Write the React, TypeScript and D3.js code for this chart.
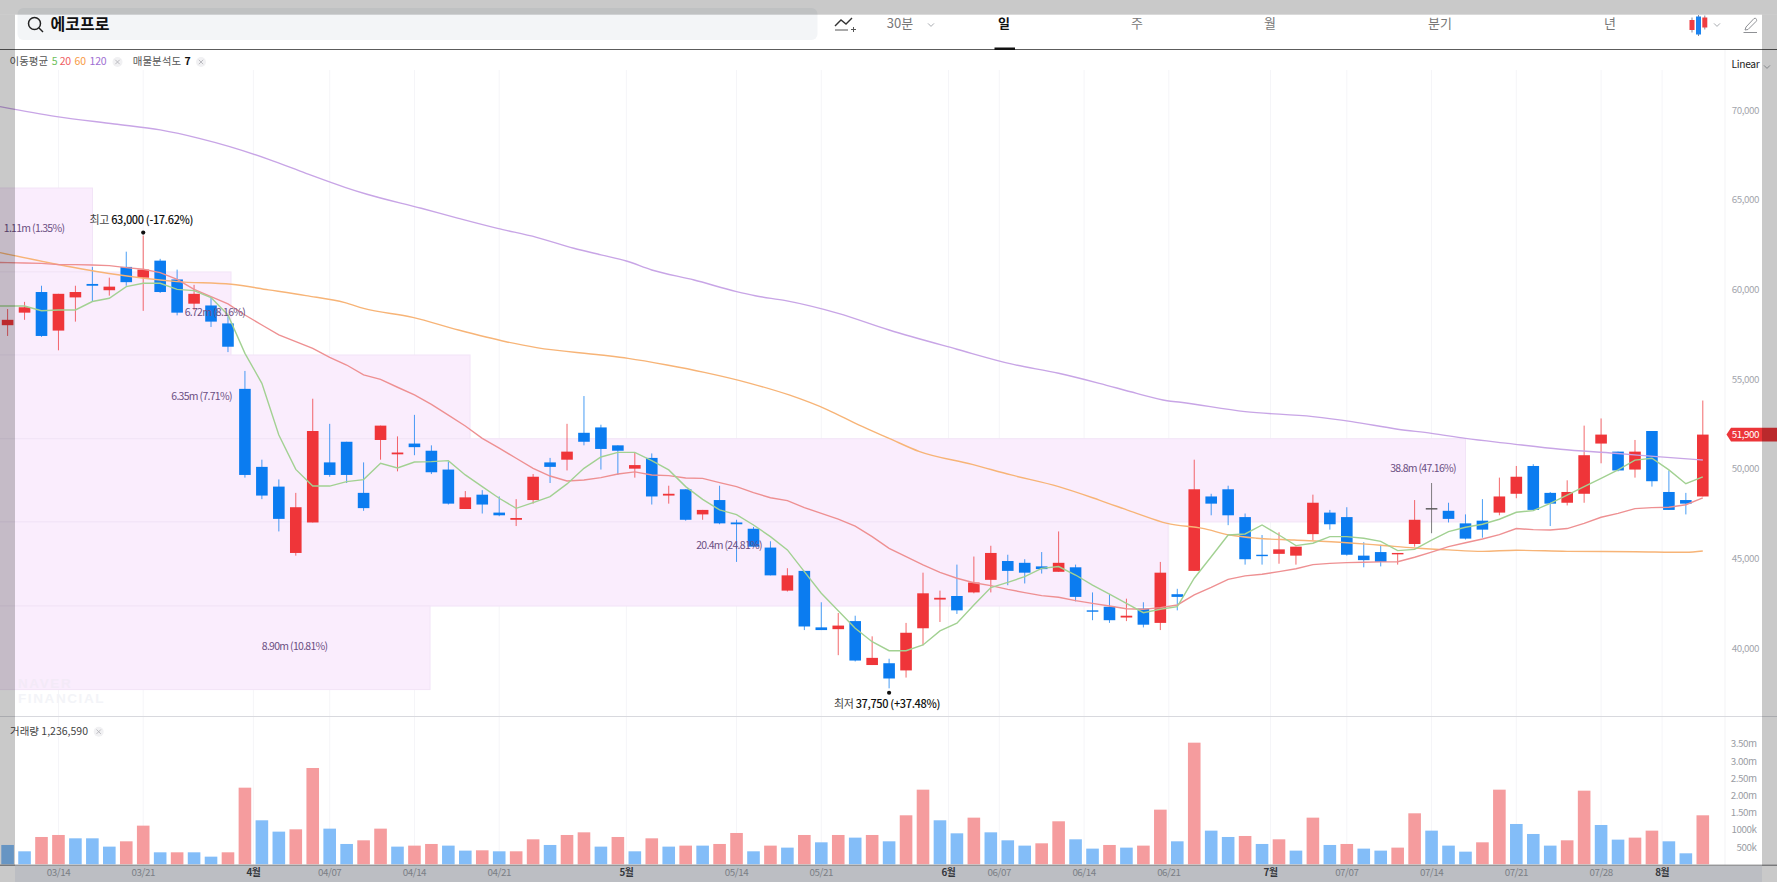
import React, { useRef, useEffect } from 'react';
import * as d3 from 'd3';

const FONT = '"Noto Sans CJK KR", "Noto Sans", sans-serif';

const opens = [
  58000, 58700, 59850, 57700, 59550, 60300, 59950, 61250, 60650, 61600,
  60550, 59200, 59100, 58100, 54450, 50100, 49000, 45300, 47000, 50350,
  51500, 48650, 51600, 50800, 51400, 51000, 49950, 47750, 48550, 47550,
  47150, 48250, 50350, 50500, 52000, 52300, 51300, 50000, 50600, 48500,
  48850, 47450, 48250, 47000, 46650, 45600, 43200, 44300, 41150, 41050,
  41500, 39050, 39150, 38750, 41100, 42700, 42900, 43100, 43800, 44850,
  44750, 44550, 44250, 44500, 42100, 42300, 41700, 42200, 41400, 43000,
  44300, 48450, 48850, 47300, 45200, 45250, 45150, 46350, 47550, 47300,
  45150, 45350, 45250, 45800, 47800, 47650, 46950, 47100, 47550, 48600,
  50150, 48650, 48100, 48600, 51400, 50950, 49950, 52100, 48700, 48250,
  48450,
];
const closes = [
  58300, 59000, 57400, 59750, 59850, 60200, 60150, 60400, 61100, 59850,
  58700, 59750, 58200, 56800, 49650, 48500, 47200, 47850, 52100, 49650,
  49650, 47800, 52400, 50900, 51200, 49800, 48050, 48400, 48000, 47400,
  47250, 49550, 50100, 50950, 51500, 51100, 51000, 50200, 48450, 48600,
  47150, 47700, 46950, 46900, 45650, 44050, 44050, 41200, 41000, 41250,
  39300, 39450, 38300, 40850, 43050, 42800, 42100, 43650, 45300, 44300,
  44200, 44400, 44750, 42850, 42050, 41550, 41800, 41300, 44200, 42850,
  48850, 48050, 47400, 44950, 45150, 45500, 45650, 48100, 46900, 45200,
  44900, 44800, 45300, 47150, 47800, 47200, 46100, 46600, 48450, 49550,
  47700, 48050, 48700, 50750, 51900, 49900, 50950, 49300, 47700, 48050,
  51900,
];
const highs = [
  58900, 59300, 60200, 59750, 60200, 61250, 60650, 62100, 63000, 61700,
  61100, 60250, 59550, 58500, 55450, 50500, 49400, 48650, 53900, 52500,
  51500, 50350, 52400, 51800, 53000, 51300, 50400, 48750, 48800, 48450,
  48300, 49700, 50600, 52500, 54050, 52450, 51300, 50900, 50850, 49050,
  48850, 47700, 49050, 47150, 46750, 45950, 44450, 44300, 42550, 41950,
  41800, 40650, 39400, 41400, 44200, 43200, 44650, 45100, 45700, 45200,
  44950, 45350, 46500, 44650, 43100, 43000, 42750, 42550, 44800, 43300,
  50500, 48600, 49050, 47500, 46300, 46450, 45650, 48550, 47700, 47850,
  45900, 45750, 45300, 48250, 49200, 48100, 47450, 48300, 49500, 50150,
  50250, 48700, 49350, 52400, 52800, 50950, 51600, 52100, 49900, 48650,
  53800,
];
const lows = [
  57400, 58300, 57350, 56600, 58200, 59300, 59650, 60200, 58800, 59800,
  58550, 58850, 57900, 56500, 49500, 48300, 46500, 45150, 47000, 49550,
  49200, 47650, 50500, 49850, 50750, 49700, 48000, 47750, 47500, 47350,
  46800, 48050, 49200, 49900, 51300, 49950, 49650, 49500, 48000, 48050,
  47100, 47150, 46900, 44800, 45650, 44050, 43150, 41000, 41000, 39600,
  39250, 39050, 37750, 38350, 40150, 41450, 41900, 43050, 43100, 43500,
  43600, 44150, 44250, 42600, 41550, 41400, 41500, 41150, 41000, 42100,
  44300, 47400, 46850, 44650, 44650, 44700, 44650, 46000, 46600, 45150,
  44500, 44550, 44650, 45650, 46400, 47000, 46050, 46150, 47400, 48350,
  47700, 46800, 47950, 48100, 50300, 49850, 49500, 49000, 47700, 47450,
  48450,
];

const volumes = [
  561000, 377000, 793000, 851000, 754000, 754000, 513000, 667000, 1122000, 348000,
  348000, 348000, 222000, 348000, 2224000, 1277000, 948000, 1015000, 2795000, 1035000,
  590000, 696000, 1035000, 513000, 542000, 590000, 542000, 397000, 406000, 377000,
  377000, 725000, 561000, 851000, 928000, 513000, 793000, 377000, 754000, 513000,
  542000, 542000, 590000, 909000, 377000, 542000, 484000, 851000, 638000, 851000,
  774000, 851000, 667000, 1422000, 2166000, 1277000, 899000, 1354000, 928000, 696000,
  542000, 609000, 1248000, 725000, 455000, 561000, 484000, 542000, 1586000, 667000,
  3530000, 977000, 793000, 822000, 590000, 725000, 397000, 1354000, 561000, 590000,
  455000, 397000, 484000, 1480000, 977000, 542000, 367000, 638000, 2166000, 1170000,
  880000, 542000, 696000, 2137000, 1141000, 716000, 774000, 977000, 667000, 319000,
  1422000,
];
// r / b per session, as the volume bars are coloured in the picture
const volumeColors = (
  'bbrrbbbrrb' + 'rbbrrbbrrb' + 'brrbrrbbrb' + 'rrbrrbrbrb' + 'rbrrbrbrbr' +
  'brbrrbbrbb' + 'brrbbrbrrb' + 'rbbrbrbrbr' + 'bbrrbbbrrb' + 'bbrrbbrrbb' + 'r'
).split('');

// first entry of ma5 / ma20 is the value one session before the first candle
const ma5 = [
  59070, 59070, 59070, 58810, 58850, 58850, 59320, 59500, 60150, 60340, 60340,
  60000, 59930, 59540, 58570, 56430, 54760, 51880, 49960, 49030, 49030,
  49280, 49390, 50300, 50040, 50370, 50390, 50450, 49650, 49000, 48350,
  47790, 48110, 48440, 49150, 50020, 50650, 50910, 50910, 50450, 49930,
  49000, 48290, 47700, 47440, 46860, 46210, 45470, 44260, 43050, 42080,
  41100, 40350, 39850, 39850, 40170, 40950, 41380, 42400, 43370, 43660,
  43980, 44440, 44540, 44070, 43510, 43010, 42490, 41970, 42160, 42310,
  43890, 45090, 46300, 46360, 46860, 46300, 45710, 45840, 46210, 46210,
  46120, 45950, 45430, 45500, 46020, 46490, 46730, 46900, 47180, 47570,
  47660, 48070, 48530, 49000, 49460, 49930, 50480, 50580, 49930, 49160,
  49540,
];
const ma20 = [
  61500, 61490, 61470, 61450, 61380, 61380, 61360, 61320, 61210, 61120, 60930,
  60560, 60000, 59590, 59190, 58570, 58010, 57460, 57080, 56710, 56210,
  55780, 55230, 54980, 54540, 54110, 53590, 52990, 52380, 51690, 51140,
  50580, 50020, 49590, 49310, 49370, 49500, 49700, 49820, 49650, 49610,
  49480, 49460, 49220, 49000, 48660, 48380, 48220, 47830, 47510, 47190,
  46800, 46210, 45560, 45090, 44630, 44220, 43890, 43640, 43480, 43270,
  43090, 42920, 42830, 42640, 42490, 42340, 42190, 42160, 42250, 42400,
  42960, 43380, 43830, 44020, 44110, 44260, 44420, 44650, 44720, 44760,
  44780, 44800, 44810, 45060, 45350, 45650, 45870, 46080, 46320, 46660,
  46600, 46580, 46660, 46950, 47290, 47510, 47770, 47830, 47850, 47990,
  48370,
];
const ma60Sessions = [
  -0.45, 2.9, 6.3, 10, 13.2, 15.4, 17.6, 19.9, 21, 23.9, 26.6, 29.4, 31.2, 35, 36.6, 38.9, 41.1,
  43.8, 46.1, 48.4, 50.2, 52, 53.8, 56.9, 59.2, 62, 64.4, 66.6, 68.4, 70.5, 72.1, 73.7, 75.9,
  79, 81, 83, 85, 87, 89, 92, 96, 99, 100,
];
const ma60 = [
  62050, 61400, 60840, 60430, 60280, 59970, 59650, 59260, 58940, 58440, 57730, 57080, 56750, 56340, 56150, 55780, 55370,
  54760, 54110, 53270, 52440, 51690, 50950, 50240, 49650, 49000, 48250, 47510, 46950, 46670, 46300, 46120, 46020,
  45870, 45730, 45580, 45470, 45390, 45450, 45390, 45370, 45340, 45410,
];
const ma120Sessions = [
  -0.45, 2.9, 6.3, 9, 11.3, 13.1, 15.4, 17.6, 19.9, 21.2, 24.4, 26.6, 28.9, 31.2, 33.4, 35, 36.5, 38, 40.5,
  43, 44.1, 45.9, 49, 52, 56, 59.2, 62, 64.4, 66.6, 68.4, 69.2, 73, 77, 79.3, 82, 84, 86, 88.5, 91.6, 94.8, 97.3, 100,
];
const ma120 = [
  70190, 69630, 69220, 68890, 68420, 67960, 67250, 66470, 65690, 65300, 64520, 63960, 63400, 62900, 62290, 61920, 61580, 61080, 60520,
  59870, 59640, 59370, 58660, 57730, 56660, 55840, 55320, 54760, 54200, 53790, 53700, 53180, 52900, 52620, 52200, 51970, 51690, 51410, 51080, 50860, 50670, 50480,
];

// volume profile: price bands, how far each band reaches (in sessions) and its label
const profileEdges = [65650, 60970, 56340, 51670, 47030, 42340, 37680];
const profileEnds = [5.01, 13.18, 27.28, 86, 68.46, 24.92];
const profileLabels = ['1.11m (1.35%)', '6.72m (8.16%)', '6.35m (7.71%)', '38.8m (47.16%)', '20.4m (24.81%)', '8.90m (10.81%)'];
const profileLabelSessions = [1.56, 12.23, 11.44, 83.5, 42.56, 16.93];
const profileLabelPrices = [63350, 58650, 54000, 50000, 45700, 40050];

const dateTickSessions = [3, 8, 14.5, 19, 24, 29, 36.5, 43, 48, 55.5, 58.5, 63.5, 68.5, 74.5, 79, 84, 89, 94, 97.6];
const dateTickLabels = ['03/14', '03/21', '4월', '04/07', '04/14', '04/21', '5월', '05/14', '05/21', '6월', '06/07', '06/14', '06/21', '7월', '07/07', '07/14', '07/21', '07/28', '8월'];
const priceTicks = [40000, 45000, 50000, 55000, 60000, 65000, 70000];
const volumeTicks = [500000, 1000000, 1500000, 2000000, 2500000, 3000000, 3500000];
const volumeTickLabels = ['500k', '1000k', '1.50m', '2.00m', '2.50m', '3.00m', '3.50m'];
const navLabels = ['30분', '일', '주', '월', '분기', '년'];
const navCentres = [900, 1004, 1137, 1270, 1440, 1610];

const RED = '#ef3539';
const BLUE = '#0b7cf0';

const App: React.FC = () => {
  const svgRef = useRef<SVGSVGElement>(null);

  useEffect(() => {
    if (!svgRef.current) return;
    const svg = d3.select(svgRef.current);
    svg.selectAll('*').remove();
    svg.attr('font-family', FONT);

    const x = d3.scaleLinear().domain([0, 100]).range([7.6, 1702.8]);
    const y = d3.scaleLinear().domain([40000, 70000]).range([648, 110]);
    const yVol = d3.scaleLinear().domain([0, 3500000]).range([864.3, 743.7]);

    const text = (
      g: d3.Selection<any, any, any, any>,
      s: string, px: number, py: number, size: number, fill: string,
      opts: { anchor?: string; weight?: number; spacing?: number } = {}
    ) =>
      g.append('text').attr('x', px).attr('y', py).attr('font-size', size).attr('fill', fill)
        .attr('dominant-baseline', 'middle')
        .attr('text-anchor', opts.anchor || 'start')
        .attr('font-weight', opts.weight || 400)
        .attr('letter-spacing', opts.spacing ?? 0)
        .text(s);

    svg.append('rect').attr('width', 1777).attr('height', 882).attr('fill', '#fff');

    // grid
    svg.append('g').selectAll('line').data(dateTickSessions).join('line')
      .attr('x1', d => x(d)).attr('x2', d => x(d)).attr('y1', 70).attr('y2', 865)
      .attr('stroke', '#f5f5f8').attr('stroke-width', 1);
    svg.append('line').attr('x1', 1725).attr('x2', 1725).attr('y1', 50).attr('y2', 865).attr('stroke', '#f3f3f5');

    // volume profile
    svg.append('g').selectAll('rect').data(profileEnds).join('rect')
      .attr('x', -1)
      .attr('y', (_, i) => y(profileEdges[i]))
      .attr('width', d => x(d) + 1)
      .attr('height', (_, i) => y(profileEdges[i + 1]) - y(profileEdges[i]))
      .attr('fill', '#faedfd').attr('stroke', '#f2e4f7').attr('stroke-width', 1);

    // candles
    const candles = svg.append('g');
    const sessions = d3.range(opens.length);
    const candleColor = (i: number) =>
      closes[i] === opens[i] ? '#555' : closes[i] > opens[i] ? RED : BLUE;
    candles.selectAll('line').data(sessions).join('line')
      .attr('x1', i => x(i)).attr('x2', i => x(i))
      .attr('y1', i => y(highs[i])).attr('y2', i => y(lows[i]))
      .attr('stroke', candleColor).attr('stroke-width', 1).attr('stroke-opacity', 0.75);
    candles.selectAll('rect').data(sessions).join('rect')
      .attr('x', i => x(i) - 5.8)
      .attr('width', 11.6)
      .attr('y', i => y(Math.max(opens[i], closes[i])))
      .attr('height', i => Math.max(1.4, Math.abs(y(opens[i]) - y(closes[i]))))
      .attr('fill', candleColor);

    // moving averages
    const lineOf = (xs: number[], vs: number[], color: string, curve: d3.CurveFactory) => {
      const line = d3.line<number>().x(d => x(xs[d])).y(d => y(vs[d])).curve(curve);
      svg.append('path').attr('d', line(d3.range(vs.length))).attr('fill', 'none')
        .attr('stroke', color).attr('stroke-width', 1.4);
    };
    const dailyX = ma5.map((_, i) => i - 1);
    lineOf(ma120Sessions, ma120, '#c8a5e6', d3.curveMonotoneX);
    lineOf(ma60Sessions, ma60, '#f7b477', d3.curveMonotoneX);
    lineOf(dailyX, ma20, '#ee9092', d3.curveLinear);
    lineOf(dailyX, ma5, '#a2d192', d3.curveLinear);

    // profile labels
    profileLabels.forEach((s, i) => {
      text(svg, s, x(profileLabelSessions[i]), y(profileLabelPrices[i]), 10.5, '#6b4f82', { anchor: 'middle', spacing: -0.7 });
    });

    // high and low marks
    const hiIdx = highs.indexOf(d3.max(highs) as number);
    const loIdx = lows.indexOf(d3.min(lows) as number);
    svg.append('circle').attr('cx', x(hiIdx)).attr('cy', y(highs[hiIdx]) - 3).attr('r', 2.1).attr('fill', '#111');
    svg.append('circle').attr('cx', x(loIdx)).attr('cy', y(lows[loIdx]) + 4.4).attr('r', 2.1).attr('fill', '#111');
    const hiText = text(svg, '최고 ', 89.5, 220.7, 11, '#444', { spacing: -0.35 });
    hiText.append('tspan').attr('fill', '#111').attr('font-weight', 500).text('63,000 (-17.62%)');
    const loText = text(svg, '최저 ', 834, 705, 11, '#444', { spacing: -0.35 });
    loText.append('tspan').attr('fill', '#111').attr('font-weight', 500).text('37,750 (+37.48%)');

    // watermark
    text(svg, 'NAVER', 18, 684.5, 13.5, '#f3eaf7', { weight: 700, spacing: 1.6 }).attr('font-family', '"Liberation Sans"');
    text(svg, 'FINANCIAL', 18, 699.5, 13.5, '#f3f4f8', { weight: 700, spacing: 1.6 }).attr('font-family', '"Liberation Sans"');

    // volume panel
    svg.append('line').attr('x1', 0).attr('x2', 1777).attr('y1', 716.5).attr('y2', 716.5).attr('stroke', '#d8d9de');
    svg.append('g').selectAll('rect').data(volumes).join('rect')
      .attr('x', (_, i) => x(i) - 6.3)
      .attr('width', 12.6)
      .attr('y', d => yVol(d))
      .attr('height', d => yVol(0) - yVol(d))
      .attr('fill', (_, i) => (volumeColors[i] === 'r' ? '#f59c9e' : '#83bdf8'));

    // price and volume axes
    const priceAxis = svg.append('g').attr('transform', 'translate(1759,0)')
      .call(d3.axisLeft(y).tickValues(priceTicks).tickSize(0).tickPadding(0).tickFormat(d3.format(',') as any));
    priceAxis.select('.domain').remove();
    priceAxis.selectAll('text').attr('font-family', FONT).attr('font-size', 9.8).attr('fill', '#a3a6ad').attr('letter-spacing', -0.45);
    const volAxis = svg.append('g').attr('transform', 'translate(1756.5,0)')
      .call(d3.axisLeft(yVol).tickValues(volumeTicks).tickSize(0).tickPadding(0)
        .tickFormat((_, i) => volumeTickLabels[i]));
    volAxis.select('.domain').remove();
    volAxis.selectAll('text').attr('font-family', FONT).attr('font-size', 9.8).attr('fill', '#9a9da4').attr('letter-spacing', -0.45);

    // current price tag
    const tagY = y(closes[closes.length - 1]);
    svg.append('path')
      .attr('d', d3.line()([[1726.5, tagY], [1731, tagY - 6.8], [1777, tagY - 6.8], [1777, tagY + 6.8], [1731, tagY + 6.8]]) + 'Z')
      .attr('fill', '#ec3539');
    text(svg, d3.format(',')(closes[closes.length - 1]), 1759, tagY + 0.3, 9.8, '#fff', { anchor: 'end', spacing: -0.45 });

    // bottom band with date labels
    svg.append('rect').attr('x', 15).attr('y', 865.5).attr('width', 1747).attr('height', 17).attr('fill', '#bcbec3');
    svg.append('rect').attr('x', 0).attr('y', 864.6).attr('width', 1777).attr('height', 1.3).attr('fill', '#8e8f92');
    dateTickLabels.forEach((s, i) => {
      const isMonth = s.endsWith('월');
      text(svg, s, x(dateTickSessions[i]), 873.5, 9.8, isMonth ? '#33363b' : '#7b7f86', { anchor: 'middle', weight: isMonth ? 700 : 400, spacing: -0.45 });
    });

    // header
    svg.append('rect').attr('x', 17.5).attr('y', 8).attr('width', 800).attr('height', 32).attr('rx', 6).attr('fill', '#f3f5f7');
    svg.append('circle').attr('cx', 34.5).attr('cy', 23.5).attr('r', 6).attr('fill', 'none').attr('stroke', '#222').attr('stroke-width', 1.5);
    svg.append('line').attr('x1', 39).attr('y1', 28).attr('x2', 43).attr('y2', 32).attr('stroke', '#222').attr('stroke-width', 1.5);
    text(svg, '에코프로', 50.5, 26, 16, '#111', { weight: 700 });
    svg.append('line').attr('x1', 0).attr('x2', 1777).attr('y1', 49.5).attr('y2', 49.5).attr('stroke', '#5c5c5c').attr('stroke-width', 1.1);
    navLabels.forEach((s, i) => {
      const active = s === '일';
      text(svg, s, navCentres[i], 24.5, 13, active ? '#111' : '#777', { anchor: 'middle', weight: active ? 700 : 400 });
    });
    svg.append('rect').attr('x', 994.5).attr('y', 47.5).attr('width', 20.5).attr('height', 2.5).attr('fill', '#111');

    const chevron = (cx: number, cy: number) =>
      svg.append('path').attr('d', d3.line()([[cx - 3, cy - 1.6], [cx, cy + 1.4], [cx + 3, cy - 1.6]]))
        .attr('fill', 'none').attr('stroke', '#a8abb0').attr('stroke-width', 1);
    chevron(931, 25);
    chevron(1717, 25);
    chevron(1767, 67);

    // toolbar icons
    svg.append('path').attr('d', d3.line()([[835, 26], [841, 20], [846, 24], [852, 18]]))
      .attr('fill', 'none').attr('stroke', '#333').attr('stroke-width', 1.4);
    svg.append('path').attr('d', 'M835 30H848M851 29.5H856M853.5 27V32').attr('fill', 'none').attr('stroke', '#555').attr('stroke-width', 1);
    svg.append('path').attr('d', 'M1692 17.5V32.5M1698.5 15V36M1704.8 15.5V29.5').attr('stroke-width', 1).attr('stroke', '#8a8a9a').attr('fill', 'none');
    svg.append('rect').attr('x', 1689.5).attr('y', 20).attr('width', 5).attr('height', 10).attr('fill', '#ee3d42');
    svg.append('rect').attr('x', 1696).attr('y', 16.5).attr('width', 5).attr('height', 18).attr('fill', '#1b84f0');
    svg.append('rect').attr('x', 1702.3).attr('y', 17.5).attr('width', 5).attr('height', 10).attr('fill', '#ee3d42');
    svg.append('path').attr('d', 'M1746 27L1754 18.5Q1756 17.5 1756.5 19.5Q1757 20.5 1756 21.5L1748 29.5L1745 30ZM1743.5 32.5H1757')
      .attr('fill', 'none').attr('stroke', '#8f9195').attr('stroke-width', 1);

    // legends
    const closeMark = (cx: number, cy: number) => {
      svg.append('circle').attr('cx', cx).attr('cy', cy).attr('r', 5).attr('fill', '#f1f1f3');
      svg.append('path').attr('d', `M${cx - 2.2} ${cy - 2.2}L${cx + 2.2} ${cy + 2.2}M${cx + 2.2} ${cy - 2.2}L${cx - 2.2} ${cy + 2.2}`)
        .attr('stroke', '#b5b6bb').attr('stroke-width', 0.9);
    };
    text(svg, '이동평균', 9.5, 62, 10.5, '#555');
    text(svg, '5', 51.7, 62, 10.5, '#6cc05a');
    text(svg, '20', 59.7, 62, 10.5, '#ef6063', { spacing: -0.2 });
    text(svg, '60', 74.6, 62, 10.5, '#f79a44', { spacing: -0.2 });
    text(svg, '120', 89.6, 62, 10.5, '#a06fd2', { spacing: -0.2 });
    closeMark(117.5, 62);
    text(svg, '매물분석도', 132.8, 62, 10.5, '#555');
    text(svg, '7', 184.5, 62, 10.5, '#111', { weight: 700 });
    closeMark(201, 62);
    text(svg, 'Linear', 1731.5, 65.7, 10.2, '#222', { spacing: -0.3 });
    text(svg, '거래량 1,236,590', 10, 731.7, 10.5, '#444');
    closeMark(98.7, 731.7);

    // grey frame over the capture
    const frame = svg.append('g').attr('fill', '#000').attr('fill-opacity', 0.21);
    frame.append('rect').attr('x', 0).attr('y', 0).attr('width', 1777).attr('height', 14.7);
    frame.append('rect').attr('x', 0).attr('y', 14.7).attr('width', 15).attr('height', 867.3);
    frame.append('rect').attr('x', 1762).attr('y', 14.7).attr('width', 15).attr('height', 867.3);
  }, []);

  return (
    <svg
      ref={svgRef}
      width="1777"
      height="882"
      style={{ position: 'absolute', left: 0, top: 0, display: 'block' }}
    />
  );
};

export default App;
